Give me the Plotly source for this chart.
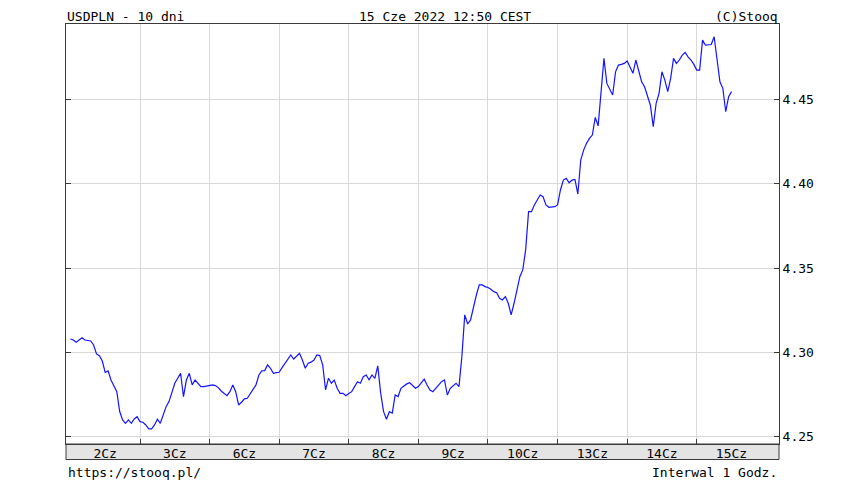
import plotly.graph_objects as go

# ---- data (hourly closes, USDPLN) ----
day_labels = ["2Cz", "3Cz", "6Cz", "7Cz", "8Cz", "9Cz", "10Cz", "13Cz", "14Cz", "15Cz"]

d02 = [4.3079, 4.3073, 4.3059, 4.3075, 4.3086, 4.3073, 4.3069, 4.3067, 4.3043, 4.2990, 4.2980, 4.2948,
       4.2880, 4.2889, 4.2835, 4.2796, 4.2766, 4.2648, 4.2598, 4.2578, 4.2598, 4.2578, 4.2604, 4.2617]
d03 = [4.2588, 4.2584, 4.2568, 4.2545, 4.2545, 4.2568, 4.2602, 4.2578, 4.2628, 4.2677, 4.2707, 4.2766,
       4.2816, 4.2846, 4.2875, 4.2736, 4.2835, 4.2875, 4.2806, 4.2835, 4.2816, 4.2796, 4.2796, 4.2800]
d06 = [4.2803, 4.2806, 4.2802, 4.2790, 4.2770, 4.2756, 4.2742, 4.2766, 4.2806, 4.2766, 4.2687, 4.2703,
       4.2723, 4.2727, 4.2756, 4.2782, 4.2806, 4.2865, 4.2889, 4.2891, 4.2925, 4.2905, 4.2875, 4.2879]
d07 = [4.2881, 4.2909, 4.2935, 4.2954, 4.2984, 4.2960, 4.2980, 4.2994, 4.2954, 4.2905, 4.2935, 4.2941,
       4.2954, 4.2984, 4.2980, 4.2925, 4.2776, 4.2846, 4.2816, 4.2835, 4.2786, 4.2756, 4.2756, 4.2742]
d08 = [4.2755, 4.2766, 4.2796, 4.2825, 4.2816, 4.2855, 4.2865, 4.2836, 4.2865, 4.2845, 4.2919, 4.2757,
       4.2647, 4.2602, 4.2647, 4.2638, 4.2746, 4.2737, 4.2786, 4.2800, 4.2812, 4.2819, 4.2805, 4.2786]
d09 = [4.2796, 4.2816, 4.2840, 4.2805, 4.2776, 4.2766, 4.2786, 4.2805, 4.2825, 4.2836, 4.2746, 4.2786,
       4.2800, 4.2816, 4.2796, 4.2974, 4.3222, 4.3168, 4.3192, 4.3271, 4.3340, 4.3400, 4.3400, 4.3390]
d10 = [4.3385, 4.3374, 4.3360, 4.3354, 4.3321, 4.3311, 4.3331, 4.3291, 4.3222, 4.3291, 4.3380, 4.3449,
       4.3489, 4.3608, 4.3835, 4.3835, 4.3875, 4.3904, 4.3934, 4.3924, 4.3875, 4.3861, 4.3861, 4.3865]
d13 = [4.3875, 4.3964, 4.4023, 4.4033, 4.4007, 4.4023, 4.4027, 4.3940, 4.4142, 4.4201, 4.4241, 4.4270,
       4.4290, 4.4395, 4.4345, 4.4560, 4.4746, 4.4597, 4.4558, 4.4528, 4.4666, 4.4706, 4.4710, 4.4716]
d14 = [4.4730, 4.4696, 4.4657, 4.4736, 4.4666, 4.4607, 4.4577, 4.4528, 4.4469, 4.4340, 4.4479, 4.4538,
       4.4666, 4.4617, 4.4548, 4.4627, 4.4746, 4.4716, 4.4736, 4.4765, 4.4781, 4.4755, 4.4736, 4.4710]
d15 = [4.4676, 4.4676, 4.4854, 4.4824, 4.4824, 4.4828, 4.4874, 4.4746, 4.4607, 4.4568, 4.4429, 4.4518,
       4.4548]

series = [d02, d03, d06, d07, d08, d09, d10, d13, d14, d15]
y_ticks = [4.25, 4.30, 4.35, 4.40, 4.45]
HOURS = 24

x, y = [], []
for i, vals in enumerate(series):
    for j, v in enumerate(vals):
        x.append(i * HOURS + j)
        y.append(v)

label_pos = [i * HOURS + HOURS / 2 for i in range(len(day_labels))]
day_bounds = [i * HOURS for i in range(1, len(day_labels))]

FONT = "DejaVu Sans Mono"
AX = "#3a3a3a"
GRID = "#d9d9d9"

fig = go.Figure()
fig.add_trace(go.Scatter(x=x, y=y, mode="lines",
                         line=dict(color="#1414ff", width=1.2),
                         hoverinfo="x+y", showlegend=False))

top_note = dict(xref="paper", yref="paper", y=1, yanchor="top", yshift=16,
                borderpad=0, showarrow=False)

# page body has an 8px default margin, so the figure is sized/offset to compensate
fig.update_layout(
    width=856, height=475,
    margin=dict(l=58, r=85, t=16, b=39),
    paper_bgcolor="white", plot_bgcolor="white",
    font=dict(family=FONT, size=13, color="black"),
    xaxis=dict(
        range=[-1.52, 244.37],
        tickmode="array", tickvals=label_pos, ticktext=day_labels,
        ticks="", showgrid=False, zeroline=False,
        showline=True, linecolor=AX, linewidth=1, mirror=True,
        ticklabelstandoff=-3,
        tickfont=dict(family=FONT, size=13, color="black"),
        minor=dict(tickmode="array", tickvals=day_bounds, showgrid=True,
                   gridcolor=GRID, gridwidth=1, ticks="inside", ticklen=5,
                   tickcolor=AX, tickwidth=1),
    ),
    yaxis=dict(
        range=[4.2455, 4.4950], side="right",
        tickmode="array", tickvals=y_ticks, ticktext=[f"{v:.2f}" for v in y_ticks],
        ticks="inside", ticklen=5, tickcolor=AX,
        showgrid=True, gridcolor=GRID, gridwidth=1, zeroline=False,
        showline=True, linecolor=AX, linewidth=1, mirror="ticks",
        tickfont=dict(family=FONT, size=13, color="black"),
    ),
    shapes=[dict(type="rect", xref="paper", yref="paper", x0=0, x1=1,
                 y0=-15.5 / 420, y1=0, fillcolor="#e4e4e4",
                 line=dict(color=AX, width=1), layer="below")],
    annotations=[
        dict(text="USDPLN - 10 dni", x=0, xanchor="left", **top_note),
        dict(text="15 Cze 2022 12:50 CEST", x=0.532, xanchor="center", **top_note),
        dict(text="(C)Stooq", x=1, xanchor="right", **top_note),
        dict(text="https://stooq.pl/", xref="paper", yref="paper", x=0, y=0,
             xanchor="left", yanchor="middle", yshift=-28, showarrow=False),
        dict(text="Interwal 1 Godz.", xref="paper", yref="paper", x=1, y=0,
             xanchor="right", yanchor="middle", yshift=-28, showarrow=False),
    ],
)

fig.write_html("out.html")
